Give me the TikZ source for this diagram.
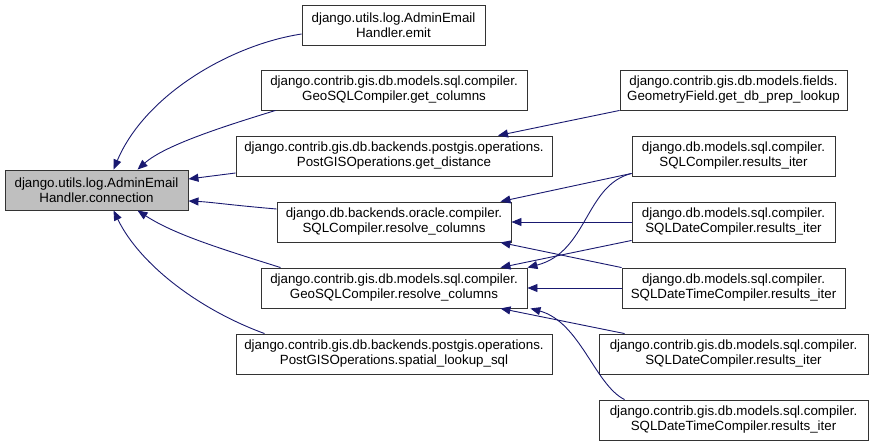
\documentclass[tikz,border=0pt]{standalone}
\usepackage{fontspec}
\setmainfont{Liberation Sans}
\usetikzlibrary{arrows.meta}
\definecolor{edgeblue}{HTML}{191970}
\definecolor{rootgray}{HTML}{BFBFBF}

\begin{document}
\begin{tikzpicture}[x=1pt, y=-1pt,
    every node/.style={rectangle, draw=black!80, fill=white, align=center,
        minimum height=40pt, inner sep=0pt, line width=0.9pt,
        font=\fontsize{13.33}{15}\selectfont},
    call/.style={draw=edgeblue, line width=0.9pt, -{Triangle[length=10pt,width=8pt]}}]
    \useasboundingbox (0,0) rectangle (872,444);

    % the function itself
    \node[fill=rootgray, minimum width=183pt] (root) at (96.5, 190) {django.utils.log.AdminEmail\\Handler.connection};

    % direct callers
    \node[minimum width=183pt] (emit) at (393.5, 25) {django.utils.log.AdminEmail\\Handler.emit};
    \node[minimum width=266pt] (getcols) at (394, 90) {django.contrib.gis.db.models.sql.compiler.\\GeoSQLCompiler.get\_columns};
    \node[minimum width=316pt] (getdist) at (394, 156) {django.contrib.gis.db.backends.postgis.operations.\\PostGISOperations.get\_distance};
    \node[minimum width=234pt] (oracle) at (394, 222) {django.db.backends.oracle.compiler.\\SQLCompiler.resolve\_columns};
    \node[minimum width=266pt] (georesolve) at (394, 288) {django.contrib.gis.db.models.sql.compiler.\\GeoSQLCompiler.resolve\_columns};
    \node[minimum width=316pt] (spatial) at (394, 354) {django.contrib.gis.db.backends.postgis.operations.\\PostGISOperations.spatial\_lookup\_sql};

    % second level callers
    \node[minimum width=227pt] (dbprep) at (733.5, 90) {django.contrib.gis.db.models.fields.\\GeometryField.get\_db\_prep\_lookup};
    \node[minimum width=203pt] (sqlres) at (733.5, 156) {django.db.models.sql.compiler.\\SQLCompiler.results\_iter};
    \node[minimum width=203pt] (sqldate) at (733.5, 222) {django.db.models.sql.compiler.\\SQLDateCompiler.results\_iter};
    \node[minimum width=223pt] (sqldatetime) at (733.5, 288) {django.db.models.sql.compiler.\\SQLDateTimeCompiler.results\_iter};
    \node[minimum width=269pt] (gisdate) at (733.5, 354) {django.contrib.gis.db.models.sql.compiler.\\SQLDateCompiler.results\_iter};
    \node[minimum width=269pt] (gisdatetime) at (733.5, 420) {django.contrib.gis.db.models.sql.compiler.\\SQLDateTimeCompiler.results\_iter};

    % edges into root
    \draw[call] ([yshift=-9pt]emit.west) .. controls (230, 45) and (145, 95) .. ([xshift=17pt]root.north);
    \draw[call] ([xshift=15pt]getcols.south west) .. controls (225, 126) and (165, 145) .. ([xshift=41pt]root.north);
    \draw[call] ([yshift=-17pt]getdist.west) -- ([yshift=11pt]root.east);
    \draw[call] ([yshift=13pt]oracle.west) .. controls (230, 205) and (210, 202) .. ([yshift=-11pt]root.east);
    \draw[call] ([xshift=20pt]georesolve.north west) .. controls (225, 250) and (175, 235) .. ([xshift=41pt]root.south);
    \draw[call] ([xshift=29pt]spatial.north west) .. controls (200, 310) and (140, 265) .. ([xshift=17pt]root.south);

    % edges into the second column
    \draw[call] (dbprep.south west) -- ([xshift=104pt]getdist.north);
    \draw[call] ([yshift=3pt]sqlres.south west) -- ([xshift=-11pt]oracle.north east);
    \draw[call] ([yshift=3pt]sqlres.south west) .. controls (585, 185) and (588, 252) .. (georesolve.north east);
    \draw[call] (sqldate.west) -- (oracle.east);
    \draw[call] ([yshift=2pt]sqldate.south west) -- ([xshift=-27pt]georesolve.north east);
    \draw[call] (sqldatetime.north west) -- ([xshift=-11pt]oracle.south east);
    \draw[call] (sqldatetime.west) -- (georesolve.east);
    \draw[call] ([xshift=26pt]gisdate.north west) -- ([xshift=-27pt]georesolve.south east);
    \draw[call] ([xshift=26pt]gisdatetime.north west) .. controls (595, 385) and (580, 322) .. ([xshift=3pt]georesolve.south east);
\end{tikzpicture}
\end{document}
